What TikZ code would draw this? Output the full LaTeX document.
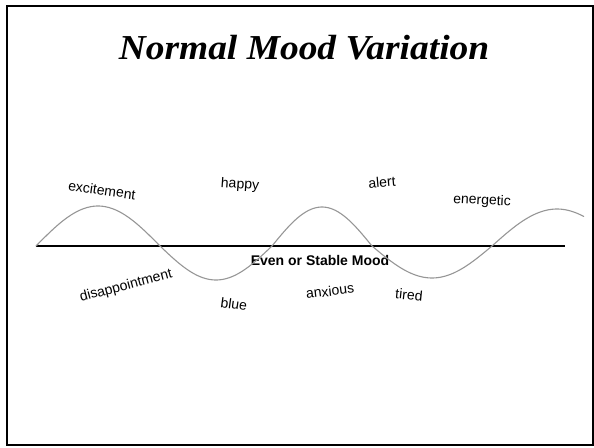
\documentclass[tikz,border=0pt]{standalone}
\usepackage{fontspec}
\setmainfont{Liberation Serif}
\setsansfont{Liberation Sans}
\usetikzlibrary{positioning}
\definecolor{WaveGray}{RGB}{150,150,150}
\tikzset{
  frame/.style={draw=black, line width=2.2pt},
  axisline/.style={draw=black, line width=2.4pt},
  wave/.style={draw=WaveGray, line width=1.1pt, line cap=round},
  title/.style={font=\fontsize{35}{40}\selectfont\bfseries\itshape, xscale=1.07},
  mood/.style={font=\sffamily\fontsize{14}{16}\selectfont, inner sep=0pt},
  baseline label/.style={font=\sffamily\bfseries\fontsize{14}{16}\selectfont, inner sep=0pt},
}

\begin{document}
\begin{tikzpicture}[x=1pt,y=-1pt]
\useasboundingbox (0,0) rectangle (594,447);

% ---- Frame ----
\draw[frame] (7,6) rectangle (593,445);

% ---- Title ----
\node[title, anchor=base] (heading) at (304,59) {Normal Mood Variation};

% ---- Stable mood line ----
\coordinate (lineL) at (36,246);
\coordinate (lineR) at (565,246);
\draw[axisline] (lineL) -- (lineR);
\node[baseline label] (stable) at (320,260) {Even or Stable Mood};

% ---- Mood wave (half waves: start/end/height) ----
\foreach \a/\b/\h in {36/160/40, 160/272/-34, 272/372/39, 372/492/-32} {
  \draw[wave] plot[domain=0:180, samples=40]
    ({\a+\x/180*(\b-\a)}, {246-\h*sin(\x)});
}
\draw[wave] plot[domain=0:127, samples=30]
  ({492+\x/180*130}, {246-37*sin(\x)});

% ---- Highs ----
\node[mood, rotate=-8] (excite) at (102,190) {excitement};
\node[mood, rotate=-4] (happy) at (240,185) {happy};
\node[mood, rotate=5] (alert) at (382,182) {alert};
\node[mood, rotate=-3] (energy) at (482,201) {energetic};

% ---- Lows ----
\node[mood, rotate=15] (disap) at (126,286) {disappointment};
\node[mood, rotate=-8] (blue) at (234,304) {blue};
\node[mood, rotate=7] (anxious) at (330,291) {anxious};
\node[mood, rotate=-6] (tired) at (409,295) {tired};

\end{tikzpicture}
\end{document}
